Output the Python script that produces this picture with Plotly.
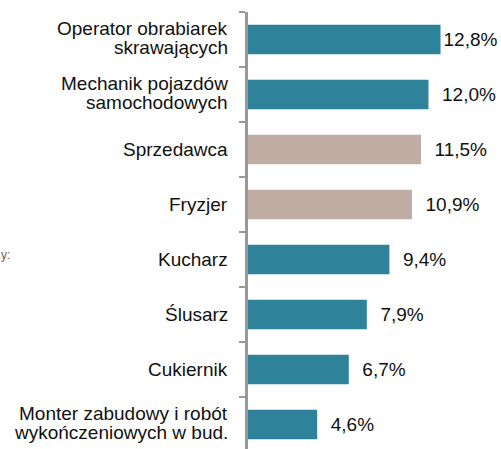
import plotly.graph_objects as go

categories = [
    "Operator obrabiarek<br>skrawających",
    "Mechanik pojazdów<br>samochodowych",
    "Sprzedawca",
    "Fryzjer",
    "Kucharz",
    "Ślusarz",
    "Cukiernik",
    "Monter zabudowy i robót<br>wykończeniowych w bud.",
]
values = [12.8, 12.0, 11.5, 10.9, 9.4, 7.9, 6.7, 4.6]
highlight = [False, False, True, True, False, False, False, False]

TEAL = "#2E8299"
BEIGE = "#BFADA3"
FONT = "Liberation Sans, Arial, sans-serif"

colors = [BEIGE if h else TEAL for h in highlight]
labels = []
for i, v in enumerate(values):
    s = f"{v:.1f}".replace(".", ",") + "%"
    pad = "" if i == 0 else "\u00a0\u00a0"
    labels.append(pad + s)

fig = go.Figure(
    go.Bar(
        x=values,
        y=categories,
        orientation="h",
        marker=dict(color=colors, line=dict(width=0)),
        text=labels,
        textposition="outside",
        textfont=dict(family=FONT, size=19, color="#111"),
        constraintext="none",
        cliponaxis=False,
        hoverinfo="skip",
    )
)

annotations = []
for cat in categories:
    parts = cat.split("<br>")
    shifts = [11.3, -8] if len(parts) == 2 else [0]
    for p, sh in zip(parts, shifts):
        annotations.append(dict(
            x=0, y=cat, xref="x", yref="y", text=p, showarrow=False,
            xanchor="right", yanchor="middle", xshift=-18, yshift=sh,
            font=dict(family=FONT, size=19, color="#111"),
        ))

annotations.append(dict(
    x=0, y=0.444, xref="paper", yref="paper", text="y:", showarrow=False,
    xanchor="left", yanchor="middle", xshift=-249,
    font=dict(family=FONT, size=12, color="#666"),
))

fig.update_layout(
    width=501, height=449,
    margin=dict(l=248, r=0, t=12, b=0),
    paper_bgcolor="white", plot_bgcolor="white",
    bargap=0.464,
    showlegend=False,
    annotations=annotations,
    xaxis=dict(range=[0, 16.82], visible=False, fixedrange=True),
    yaxis=dict(
        range=[7.445, -0.5], type="category",
        showticklabels=False,
        tickson="boundaries", ticks="outside", ticklen=6, tickwidth=2, tickcolor="#999",
        showline=True, linecolor="#999", linewidth=3,
        showgrid=False, zeroline=False, fixedrange=True,
    ),
)

fig.write_html(
    "out.html",
    config={"displayModeBar": False, "staticPlot": True},
    post_script="document.body.style.margin='0';document.body.style.overflow='hidden';",
)
